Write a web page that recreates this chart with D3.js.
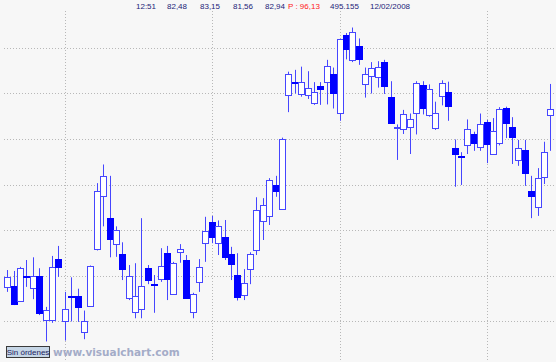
<!DOCTYPE html>
<html>
<head>
<meta charset="utf-8">
<script src="https://cdn.jsdelivr.net/npm/d3@7"></script>
<style>
  html, body { margin: 0; padding: 0; background: #f7f7f7; }
  svg { display: block; }
</style>
</head>
<body>
<div class="chart"></div>
<script>
// daily bars
const opens  = [78.74,78.76,78.44,78.99,78.72,78.99,78.01,78.01,79.37,78.00,
                78.55,78.55,77.76,78.33,79.58,80.74,80.26,79.69,79.48,78.50,
                78.20,78.28,79.16,78.81,78.92,79.50,78.59,79.52,79.34,78.19,
                78.86,79.71,80.17,79.71,79.85,79.48,79.01,78.57,79.15,79.56,
                80.19,80.31,81.00,80.48,82.95,83.25,83.00,82.98,82.80,83.16,
                83.25,83.42,82.56,84.29,83.75,84.04,83.19,83.37,83.37,83.69,
                82.92,82.24,82.23,82.27,82.59,83.19,82.51,82.24,82.93,83.04,
                81.80,81.63,81.87,82.12,81.82,82.37,81.68,81.92,82.68,82.26,
                81.53,81.76,80.85,80.50,81.15,82.54];
const highs  = [79.12,79.10,79.19,79.34,79.40,79.16,78.31,79.43,79.65,78.64,
                78.96,78.71,78.23,79.22,81.03,81.44,81.19,80.08,79.73,79.23,
                79.27,80.26,79.23,79.01,79.60,79.65,79.30,79.69,79.45,78.62,
                79.36,80.29,80.31,80.21,80.22,79.63,79.49,79.14,79.51,80.72,
                80.70,81.14,81.19,82.03,83.48,83.52,83.59,83.49,83.25,83.25,
                83.74,83.57,84.20,84.33,84.45,84.21,83.57,83.69,83.71,83.74,
                83.27,82.32,82.64,82.56,83.27,83.27,83.20,82.82,83.29,83.26,
                81.99,81.71,82.43,82.16,82.56,82.42,82.46,82.70,82.71,82.48,
                81.98,81.98,81.19,81.36,81.94,83.21];
const lows   = [78.64,78.35,78.44,78.75,78.48,78.13,77.55,77.96,78.97,77.57,
                77.99,77.98,77.60,78.33,79.55,80.08,79.40,79.41,78.90,78.46,
                78.06,78.06,78.81,78.18,78.86,78.46,78.58,79.28,78.49,78.06,
                78.64,79.30,79.71,79.45,79.34,78.90,78.45,78.46,78.81,79.45,
                79.78,80.11,80.73,80.47,82.59,83.00,82.93,82.88,82.75,82.75,
                82.76,82.67,82.40,83.75,83.69,83.63,82.91,83.00,83.13,82.99,
                82.34,81.54,82.11,81.67,82.10,82.54,82.49,82.20,82.74,82.40,
                80.95,80.99,81.67,81.74,81.74,81.47,81.65,81.86,82.02,81.45,
                81.41,80.97,80.26,80.31,81.01,81.74];
const closes = [78.96,78.37,79.16,78.96,78.99,78.18,78.24,79.18,79.19,78.26,
                78.52,78.30,78.00,79.20,80.86,81.19,79.80,80.00,79.14,78.99,
                78.55,78.78,78.89,78.79,79.21,78.92,79.28,79.58,78.50,78.59,
                79.18,79.98,79.85,80.09,79.41,79.27,78.52,78.83,79.47,80.45,
                80.54,81.10,80.86,82.01,83.42,83.22,83.26,83.13,83.04,83.09,
                83.61,83.00,84.19,83.99,84.36,83.76,83.42,83.55,83.59,83.16,
                82.34,82.27,82.56,82.45,83.24,82.69,83.09,82.57,83.22,82.73,
                81.67,81.60,82.22,81.93,82.32,81.89,82.18,82.67,82.36,82.05,
                81.80,81.25,80.74,81.14,81.71,82.67];

const priceTicks   = [84, 83, 82, 81, 80, 79, 78];
const monthStarts  = [9, 32, 52, 75];
const headerLabels = ['12:51', '82,48', '83,15', '81,56', '82,94', 'P : 96,13', '495.155', '12/02/2008'];
const headerX      = [136, 167, 200, 233, 265, 288, 330, 370];

const width = 556, height = 362;
const lineBlue = '#4646ff', fillBlue = '#0000ff';

const svg = d3.select('.chart').append('svg')
  .attr('width', width)
  .attr('height', height)
  .style('font-family', '"Liberation Sans", Arial, sans-serif');

svg.append('rect').attr('width', width).attr('height', height).attr('fill', '#f7f7f7');

const xScale = d3.scaleBand().domain(d3.range(opens.length)).range([4.1, 553.6]);
const yScale = d3.scaleLinear().domain([78, 84]).range([321, 48]);
const cx = i => Math.round(xScale(i) + xScale.bandwidth() / 2);

// dotted grid
svg.append('g').selectAll('line')
  .data(priceTicks)
  .enter().append('line')
  .attr('x1', 4).attr('x2', width)
  .attr('y1', d => Math.round(yScale(d)) + 0.5)
  .attr('y2', d => Math.round(yScale(d)) + 0.5)
  .attr('stroke', '#b8b8b8').attr('stroke-dasharray', '1,2');

svg.append('g').selectAll('line')
  .data(monthStarts)
  .enter().append('line')
  .attr('x1', d => cx(d) + 0.5).attr('x2', d => cx(d) + 0.5)
  .attr('y1', 11).attr('y2', height)
  .attr('stroke', '#b8b8b8').attr('stroke-dasharray', '1,2');

// candles
const candles = svg.append('g').selectAll('g')
  .data(d3.range(opens.length))
  .enter().append('g');

candles.append('line')
  .attr('x1', i => cx(i) + 0.5).attr('x2', i => cx(i) + 0.5)
  .attr('y1', i => yScale(highs[i]))
  .attr('y2', i => yScale(lows[i]))
  .attr('stroke', lineBlue).attr('stroke-width', 1);

candles.append('rect')
  .attr('x', i => cx(i) - 2.5)
  .attr('width', 6)
  .attr('y', i => Math.round(yScale(Math.max(opens[i], closes[i]))) + 0.5)
  .attr('height', i => Math.max(1, Math.round(Math.abs(yScale(opens[i]) - yScale(closes[i])))))
  .attr('fill', i => closes[i] >= opens[i] ? '#ffffff' : fillBlue)
  .attr('stroke', i => closes[i] >= opens[i] ? lineBlue : fillBlue)
  .attr('stroke-width', 1);

// header line
svg.append('g').selectAll('text')
  .data(headerLabels)
  .enter().append('text')
  .attr('x', (d, i) => headerX[i])
  .attr('y', 9)
  .attr('font-size', 8)
  .attr('fill', d => d.startsWith('P') ? '#ff2020' : '#1c1c78')
  .text(d => d);

// bottom strip
svg.append('rect')
  .attr('x', 6.5).attr('y', 346.5).attr('width', 43).attr('height', 11)
  .attr('fill', '#c6d6e6').attr('stroke', '#3a3a3a');
svg.append('text')
  .attr('x', 28).attr('y', 355).attr('text-anchor', 'middle')
  .attr('font-size', 8).attr('fill', '#1c1c60')
  .text('Sin órdenes');
svg.append('text')
  .attr('x', 53).attr('y', 356)
  .attr('font-family', '"DejaVu Sans", Verdana, sans-serif')
  .attr('font-size', 10.5).attr('font-weight', 'bold')
  .attr('fill', '#a4acc8')
  .text('www.visualchart.com');
</script>
</body>
</html>
